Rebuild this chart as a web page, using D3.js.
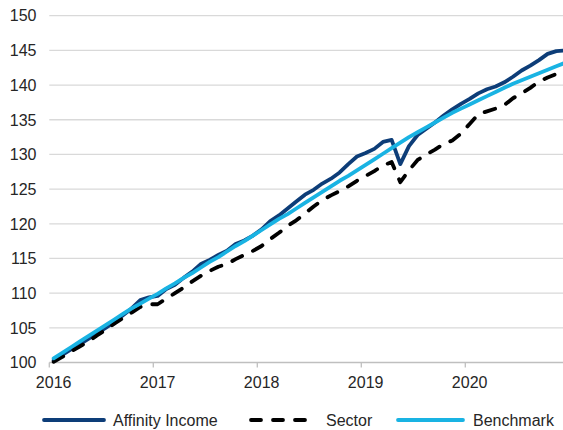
<!DOCTYPE html>
<html><head><meta charset="utf-8">
<script src="https://cdn.jsdelivr.net/npm/d3@7"></script>
<style>body{margin:0;background:#fff}svg{display:block;font-family:Arial,"Liberation Sans",sans-serif}</style>
</head><body><svg id="c" width="563" height="430"></svg>
<script>
const yearLabels = ["2016","2017","2018","2019","2020"];
const yTicks = [100,105,110,115,120,125,130,135,140,145,150];
const seriesNames = ["Affinity Income","Sector","Benchmark"];
// monthly values, Jan 2016 .. Dec 2020
const affinity = [100.3,101.1,101.9,102.6,103.4,104.2,105.0,105.8,106.8,107.8,109.0,109.4,
  109.6,110.6,111.2,112.2,113.1,114.2,114.8,115.5,116.1,117.1,117.6,118.3,
  119.2,120.4,121.2,122.2,123.2,124.2,124.9,125.8,126.5,127.4,128.6,129.7,
  130.2,130.8,131.8,132.1,128.6,131.2,132.8,133.7,134.6,135.6,136.5,137.3,
  138.0,138.8,139.4,139.8,140.4,141.2,142.1,142.8,143.6,144.5,144.9,145.0];
const sector = [100.1,100.8,101.6,102.3,103.0,103.9,104.7,105.6,106.4,107.2,108.0,108.4,
  108.4,109.2,110.0,110.8,111.7,112.5,113.2,113.8,114.2,114.9,115.5,116.1,
  116.8,117.8,118.7,119.7,120.5,121.5,122.5,123.4,124.1,124.7,125.4,126.2,
  126.9,127.6,128.4,128.9,126.0,127.7,129.2,130.0,130.7,131.5,132.0,133.0,
  134.4,135.8,136.2,136.6,137.1,138.1,138.8,139.6,140.5,141.1,141.6,142.0];
const benchmark = [100.6,101.4,102.2,103.0,103.8,104.6,105.4,106.2,107.0,107.8,108.5,109.2,
  109.9,110.7,111.4,112.2,112.9,113.7,114.5,115.2,116.0,116.8,117.5,118.3,
  119.1,119.9,120.7,121.4,122.2,123.0,123.8,124.6,125.4,126.2,126.9,127.7,
  128.5,129.3,130.1,130.9,131.7,132.5,133.2,133.9,134.6,135.3,136.0,136.6,
  137.2,137.8,138.4,139.0,139.6,140.2,140.7,141.2,141.7,142.2,142.7,143.2];

const svg = d3.select("#c");
const x = d3.scaleLinear().domain([0,60]).range([49.3,569.3]);
const y = d3.scaleLinear().domain([100,150]).range([362.5,15.7]);
const W = 563;

// gridlines
svg.append("g").selectAll("line").data(yTicks.slice(1)).join("line")
  .attr("x1",x(0)).attr("x2",W).attr("y1",d=>y(d)).attr("y2",d=>y(d))
  .attr("stroke","#D9D9D9").attr("stroke-width",1.3);
// y labels
svg.append("g").selectAll("text").data(yTicks).join("text")
  .attr("x",36.5).attr("y",d=>y(d)).attr("dy","0.36em").attr("text-anchor","end")
  .attr("font-size",16).attr("fill","#262626").text(d=>d);
// x axis
svg.append("line").attr("x1",x(0)).attr("x2",W).attr("y1",y(100)).attr("y2",y(100))
  .attr("stroke","#BFBFBF").attr("stroke-width",1.3);
const yearIdx = yearLabels.map((d,i)=>i*12);
svg.append("g").selectAll("line").data(yearIdx).join("line")
  .attr("x1",d=>x(d)).attr("x2",d=>x(d)).attr("y1",y(100)).attr("y2",y(100)+5)
  .attr("stroke","#BFBFBF").attr("stroke-width",1.3);
svg.append("g").selectAll("text").data(yearLabels).join("text")
  .attr("x",(d,i)=>x(i*12+0.5)).attr("y",387.5).attr("text-anchor","middle")
  .attr("font-size",16).attr("fill","#262626").text(d=>d);

const line = d3.line().x((d,i)=>x(i+0.5)).y(d=>y(d));
const colors = ["#0D3D78","#000000","#19B3E3"];
const dashes = [null,"11,12",null];
[affinity, sector, benchmark].forEach((s,k)=>{
  svg.append("path").datum(s).attr("d",line).attr("fill","none")
    .attr("stroke",colors[k]).attr("stroke-width",3.8)
    .attr("stroke-linejoin","round").attr("stroke-linecap","round")
    .attr("stroke-dasharray",dashes[k]);
});

// legend
const legX = [[42,106,113],[249,319,326],[396,465,473]];
const ly = 420;
seriesNames.forEach((n,k)=>{
  svg.append("line").attr("x1",legX[k][0]+2).attr("x2",legX[k][1]-2).attr("y1",ly).attr("y2",ly)
    .attr("stroke",colors[k]).attr("stroke-width",3.8).attr("stroke-linecap","round")
    .attr("stroke-dasharray",k===1?"10,12":null);
  svg.append("text").attr("x",legX[k][2]).attr("y",ly).attr("dy","0.36em")
    .attr("font-size",16).attr("fill","#262626").text(n);
});
</script></body></html>
